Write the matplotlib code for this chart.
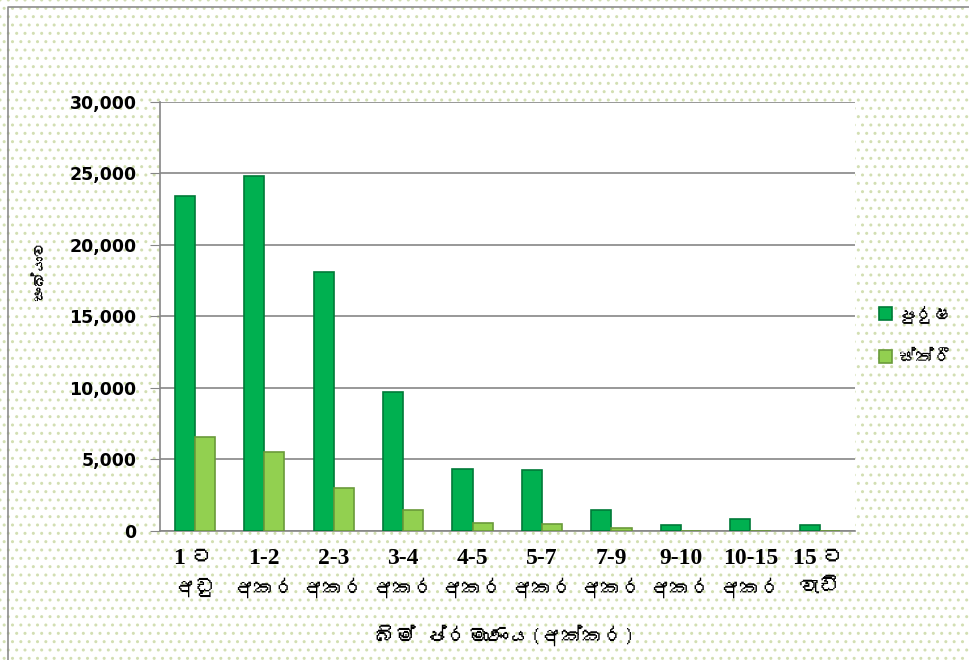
import matplotlib
matplotlib.use('Agg')
import matplotlib.pyplot as plt
import numpy as np
from matplotlib import font_manager
from matplotlib.ft2font import FT2Font
from matplotlib.patches import Rectangle
from matplotlib.lines import Line2D
from matplotlib.ticker import FuncFormatter

# data
size_ranges = ['1 ට', '1-2', '2-3', '3-4', '4-5', '5-7', '7-9', '9-10', '10-15', '15 ට']
size_words = ['අඩු', 'අකර', 'අකර', 'අකර', 'අකර', 'අකර', 'අකර', 'අකර', 'අකර', 'වැඩි']
male = [23400, 24800, 18100, 9700, 4300, 4250, 1450, 400, 850, 400]
female = [6550, 5500, 3000, 1500, 550, 470, 200, 0, 0, 0]
# no zero width joiners: matplotlib does no shaping and draws them as boxes
series_names = ['පුරුෂ', 'ස්ත්රී']
y_label = 'සංඛ්යාව'
x_label = 'බිම් ප්රමාණය(අක්කර)'


def find_sinhala_font():
    # look for any installed font that has Sinhala glyphs
    for f in font_manager.fontManager.ttflist:
        try:
            if 0x0D85 in FT2Font(f.fname).get_charmap():
                return f.name
        except Exception:
            pass
    return None


sin = find_sinhala_font()
sans = [sin, 'DejaVu Sans'] if sin else ['DejaVu Sans']
serif = ['Liberation Serif', sin] if sin else ['Liberation Serif', 'DejaVu Sans']
plt.rcParams['font.family'] = sans

fig = plt.figure(figsize=(9.7, 6.6), dpi=100)

# dotted background, border only on left and top
bg = Rectangle((0, 0), 1, 1, transform=fig.transFigure, facecolor='white',
               edgecolor='#d2dfb2', hatch='..', linewidth=0, zorder=-10)
fig.patches.append(bg)
fig.lines.append(Line2D([0.0085, 0.0085, 1.0], [0.0, 0.989, 0.989],
                        transform=fig.transFigure, color='#8c8c8c', linewidth=1.2))

ax = fig.add_axes([0.165, 0.1955, 0.716, 0.65])
ax.set_facecolor('white')

x = np.arange(len(size_ranges))
w = 0.29
ax.bar(x - 0.145, male, w, color='#00b050', edgecolor='#007a38', linewidth=1.2,
       label=series_names[0], zorder=3)
ax.bar(x + 0.145, female, w, color='#92d050', edgecolor='#6a9a3a', linewidth=1.2,
       label=series_names[1], zorder=3)

ax.set_ylim(0, 30000)
ax.set_xlim(-0.5, len(size_ranges) - 0.5)
ax.set_yticks(np.arange(0, 30001, 5000))
ax.yaxis.set_major_formatter(FuncFormatter(lambda v, p: f'{int(v):,}'))
ax.yaxis.grid(True, color='#868686', linewidth=1.2, zorder=0)
ax.set_axisbelow(True)
for lab in ax.get_yticklabels():
    lab.set_fontweight('bold')
    lab.set_fontsize(12.5)
    lab.set_family(['DejaVu Sans'])
ax.tick_params(axis='y', length=7, color='#868686', pad=10)
ax.tick_params(axis='x', length=0)
ax.set_xticks(x)
ax.set_xticklabels([])

for s in ['top', 'right']:
    ax.spines[s].set_visible(False)
ax.spines['left'].set_color('#868686')
ax.spines['bottom'].set_color('#868686')
ax.spines['left'].set_linewidth(1.2)
ax.spines['bottom'].set_linewidth(1.2)

# two line category labels
tr = ax.get_xaxis_transform()
for i in x:
    ax.text(i, -0.04, size_ranges[i], transform=tr, ha='center', va='top',
            fontsize=17, fontweight='bold', family=serif)
    ax.text(i, -0.108, size_words[i], transform=tr, ha='center', va='top',
            fontsize=15, family=sans)

fig.text(0.041, 0.59, y_label, rotation=90, ha='center', va='center', fontsize=11)
fig.text(0.52, 0.037, x_label, ha='center', va='center', fontsize=15)

ax.legend(loc='center left', bbox_to_anchor=(1.02, 0.457), frameon=False,
          fontsize=13, handlelength=0.7, handleheight=0.7, labelspacing=1.5,
          handletextpad=0.4, borderaxespad=0.2)

fig.savefig('out.png', dpi=100)
